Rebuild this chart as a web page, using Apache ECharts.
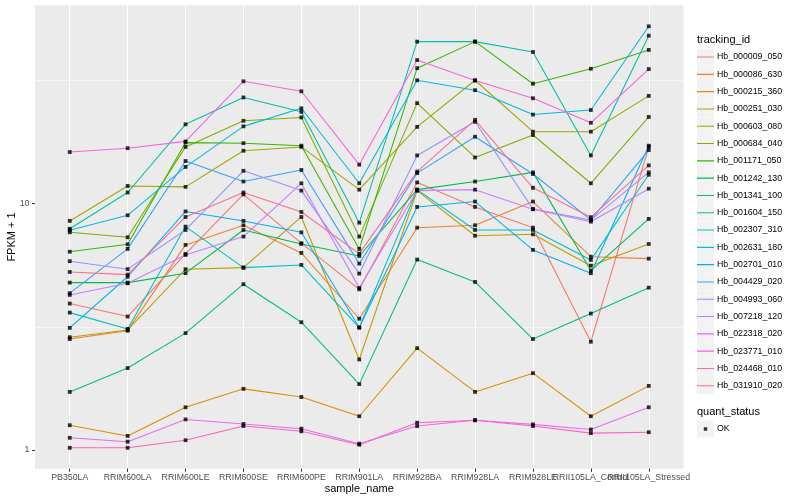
<!DOCTYPE html>
<html><head><meta charset="utf-8">
<script src="https://cdn.jsdelivr.net/npm/echarts@6/dist/echarts.min.js"></script>
<style>html,body{margin:0;padding:0;background:#fff}#c{width:800px;height:500px}</style>
</head><body><div id="c"></div>
<script>
const categories = ['PB350LA','RRIM600LA','RRIM600LE','RRIM600SE','RRIM600PE','RRIM901LA','RRIM928BA','RRIM928LA','RRIM928LE','RRII105LA_Control','RRII105LA_Stressed'];
const trackingIds = ['Hb_000009_050','Hb_000086_630','Hb_000215_360','Hb_000251_030','Hb_000603_080','Hb_000684_040','Hb_001171_050','Hb_001242_130','Hb_001341_100','Hb_001604_150','Hb_002307_310','Hb_002631_180','Hb_002701_010','Hb_004429_020','Hb_004993_060','Hb_007218_120','Hb_022318_020','Hb_023771_010','Hb_024468_010','Hb_031910_020'];
const palette = ['#F8766D','#EA8331','#D89000','#C09B00','#A3A500','#7CAE00','#39B600','#00BB4E','#00BF7D','#00C1A3','#00BFC4','#00BAE0','#00B0F6','#35A2FF','#9590FF','#C77CFF','#E76BF3','#FA62DB','#FF62BC','#FF6C91'];

// FPKM + 1 values, one array per tracking_id, in category order
const Hb_000009_050 = [3.93, 3.48, 6.25, 10.9, 6.91, 4.49, 12.2, 9.7, 7.99, 2.75, 17.0];
const Hb_000086_630 = [2.82, 3.05, 6.80, 8.17, 6.31, 3.41, 7.99, 8.17, 10.2, 6.09, 5.98];
const Hb_000215_360 = [1.26, 1.14, 1.49, 1.77, 1.64, 1.37, 2.59, 1.72, 2.05, 1.37, 1.82];
const Hb_000251_030 = [2.87, 3.07, 5.42, 5.50, 8.83, 2.33, 11.3, 7.41, 7.51, 5.60, 6.86];
const Hb_000603_080 = [8.51, 11.8, 11.7, 16.4, 17.0, 11.4, 20.5, 31.7, 19.6, 19.6, 27.4];
const Hb_000684_040 = [7.65, 7.30, 17.0, 21.7, 22.4, 7.35, 25.6, 15.4, 19.0, 12.1, 22.5];
const Hb_001171_050 = [6.38, 6.84, 17.7, 17.6, 17.2, 6.55, 35.5, 45.5, 30.7, 35.3, 42.1];
const Hb_001242_130 = [4.78, 4.78, 5.22, 7.82, 6.86, 6.13, 11.4, 12.3, 13.4, 5.35, 8.67];
const Hb_001341_100 = [1.72, 2.15, 2.98, 4.71, 3.30, 1.85, 5.93, 4.81, 2.82, 3.58, 4.56];
const Hb_001604_150 = [7.91, 11.1, 21.0, 27.0, 23.6, 8.37, 45.5, 45.5, 41.3, 15.7, 48.1];
const Hb_002307_310 = [3.61, 3.10, 8.07, 5.50, 5.64, 3.14, 11.4, 7.82, 7.82, 5.91, 13.1];
const Hb_002631_180 = [7.80, 8.97, 14.1, 20.6, 24.4, 12.1, 31.7, 28.9, 23.0, 24.0, 52.5];
const Hb_002701_010 = [3.13, 5.05, 9.3, 8.51, 7.65, 3.14, 9.7, 10.2, 6.49, 5.22, 17.2];
const Hb_004429_020 = [4.33, 6.55, 14.9, 12.3, 13.7, 5.71, 13.3, 18.7, 13.2, 8.59, 16.5];
const Hb_004993_060 = [5.84, 5.42, 7.82, 13.6, 11.3, 5.20, 15.7, 21.5, 9.5, 8.59, 13.4];
const Hb_007218_120 = [4.26, 4.75, 6.19, 7.35, 12.1, 4.55, 11.3, 11.4, 9.5, 8.45, 11.5];
const Hb_022318_020 = [1.12, 1.08, 1.33, 1.275, 1.22, 1.06, 1.25, 1.32, 1.27, 1.21, 1.49];
const Hb_023771_010 = [16.2, 16.8, 17.9, 31.4, 28.6, 14.4, 38.3, 31.6, 26.8, 21.3, 35.2];
const Hb_024468_010 = [1.02, 1.02, 1.095, 1.25, 1.19, 1.05, 1.29, 1.32, 1.25, 1.17, 1.18];
const Hb_031910_020 = [5.28, 5.15, 8.83, 11.1, 9.25, 6.27, 13.5, 21.9, 11.6, 8.81, 14.3];

const seriesValues = [Hb_000009_050, Hb_000086_630, Hb_000215_360, Hb_000251_030, Hb_000603_080, Hb_000684_040, Hb_001171_050, Hb_001242_130, Hb_001341_100, Hb_001604_150, Hb_002307_310, Hb_002631_180, Hb_002701_010, Hb_004429_020, Hb_004993_060, Hb_007218_120, Hb_022318_020, Hb_023771_010, Hb_024468_010, Hb_031910_020];

const yTickValues = [1, 10];
const yMinorBreaks = [3.1623, 31.623];
const quantStatus = ['OK'];

const FONT = '"Liberation Sans", Arial, sans-serif';
const catIdx = categories.map((c, i) => i);
// labels split across two bottom axes so the overlapping pair is drawn (as in the reference)
const catIdxA = catIdx.filter(i => i % 2 === 0);
const catIdxB = catIdx.filter(i => i % 2 === 1);

const series = trackingIds.map((id, k) => ({
  name: id,
  type: 'line',
  data: seriesValues[k].map((v, i) => [i, v]),
  showSymbol: false,
  symbol: 'none',
  lineStyle: { width: 1.07, color: palette[k] },
  itemStyle: { color: palette[k], borderWidth: 0 },
  z: 2,
  silent: true,
  emphasis: { disabled: true }
}));
series[0].markLine = {
  silent: true, symbol: 'none', z: 1, animation: false,
  label: { show: false },
  lineStyle: { color: '#FFFFFF', width: 0.53, type: 'solid' },
  data: yMinorBreaks.map(v => ({ yAxis: v }))
};
const pts = [];
seriesValues.forEach(arr => arr.forEach((v, i) => pts.push([i, v])));
series.push({
  name: quantStatus[0], type: 'scatter', data: pts,
  symbol: 'rect', symbolSize: 3.8,
  itemStyle: { color: '#000000' }, z: 5, silent: true
});

const graphics = [];
trackingIds.forEach((id, i) => {
  graphics.push({ type: 'rect', left: 697, top: 48.5 + i * 17.3, shape: { width: 17, height: 17 }, style: { fill: '#F2F2F2' }, z: -1 });
});
graphics.push({ type: 'rect', left: 697, top: 420.5, shape: { width: 17, height: 17 }, style: { fill: '#F2F2F2' }, z: -1 });
graphics.push({ type: 'text', left: 697, top: 34.5, style: { text: 'tracking_id', font: '11px ' + FONT, fill: '#000' } });
graphics.push({ type: 'text', left: 697, top: 406, style: { text: 'quant_status', font: '11px ' + FONT, fill: '#000' } });

function xAxisDef(idx, withName, withSplit) {
  return {
    type: 'value', min: -0.6, max: 10.6, position: 'bottom', offset: 0,
    name: withName ? 'sample_name' : '', nameLocation: 'middle', nameGap: 15, nameMoveOverlap: false,
    nameTextStyle: { fontFamily: FONT, fontSize: 11, color: '#000' },
    axisLine: { show: false, onZero: false },
    axisTick: { show: true, length: 3, lineStyle: { color: '#333333', width: 1 }, customValues: withSplit ? catIdx : idx },
    axisLabel: { customValues: idx, formatter: v => categories[Math.round(v)], fontFamily: FONT, fontSize: 8.8, color: '#4D4D4D', margin: 4, hideOverlap: false, showMinLabel: true, showMaxLabel: true },
    splitLine: { show: withSplit, lineStyle: { color: '#FFFFFF', width: 1.07 } }
  };
}

const chart = echarts.init(document.getElementById('c'), null, { renderer: 'canvas' });
chart.setOption({
  animation: false,
  backgroundColor: '#FFFFFF',
  grid: { left: 35, top: 5.3, right: 116.5, bottom: 31.3, show: true, backgroundColor: '#EBEBEB', borderWidth: 0, containLabel: false, outerBoundsMode: 'none' },
  xAxis: [xAxisDef(catIdxA, true, true), xAxisDef(catIdxB, false, false)],
  yAxis: {
    type: 'log', logBase: 10, min: 0.839, max: 63.9,
    name: 'FPKM + 1', nameLocation: 'middle', nameGap: 18, nameMoveOverlap: false,
    nameTextStyle: { fontFamily: FONT, fontSize: 11, color: '#000' },
    axisLine: { show: false, onZero: false },
    axisTick: { show: true, length: 3, lineStyle: { color: '#333333', width: 1 }, customValues: yTickValues },
    axisLabel: { customValues: yTickValues, fontFamily: FONT, fontSize: 8.8, color: '#4D4D4D', margin: 5.5, showMinLabel: true, showMaxLabel: true },
    splitLine: { show: true, lineStyle: { color: '#FFFFFF', width: 1.07 }, showMinLine: false, showMaxLine: false },
    minorTick: { show: false }, minorSplitLine: { show: false }
  },
  legend: [{
    data: trackingIds, orient: 'vertical', left: 697, top: 48.5,
    itemWidth: 17, itemHeight: 17, itemGap: 0.3, padding: 0,
    icon: 'path://M0,0h0.05v0.05h-0.05z M0,8h17v1.1h-17z M16.95,16.95h0.05v0.05h-0.05z',
    itemStyle: { borderWidth: 0 },
    textStyle: { fontFamily: FONT, fontSize: 8.8, color: '#000', padding: [0, 0, 0, -2] },
    selectedMode: false
  }, {
    data: quantStatus, orient: 'vertical', left: 697, top: 420.5,
    itemWidth: 17, itemHeight: 17, padding: 0,
    icon: 'path://M0,0h0.05v0.05h-0.05z M6.8,6.8h3.4v3.4h-3.4z M16.95,16.95h0.05v0.05h-0.05z',
    itemStyle: { borderWidth: 0 },
    textStyle: { fontFamily: FONT, fontSize: 8.8, color: '#000', padding: [0, 0, 0, -2] },
    selectedMode: false
  }],
  graphic: graphics,
  series: series
});
</script></body></html>
